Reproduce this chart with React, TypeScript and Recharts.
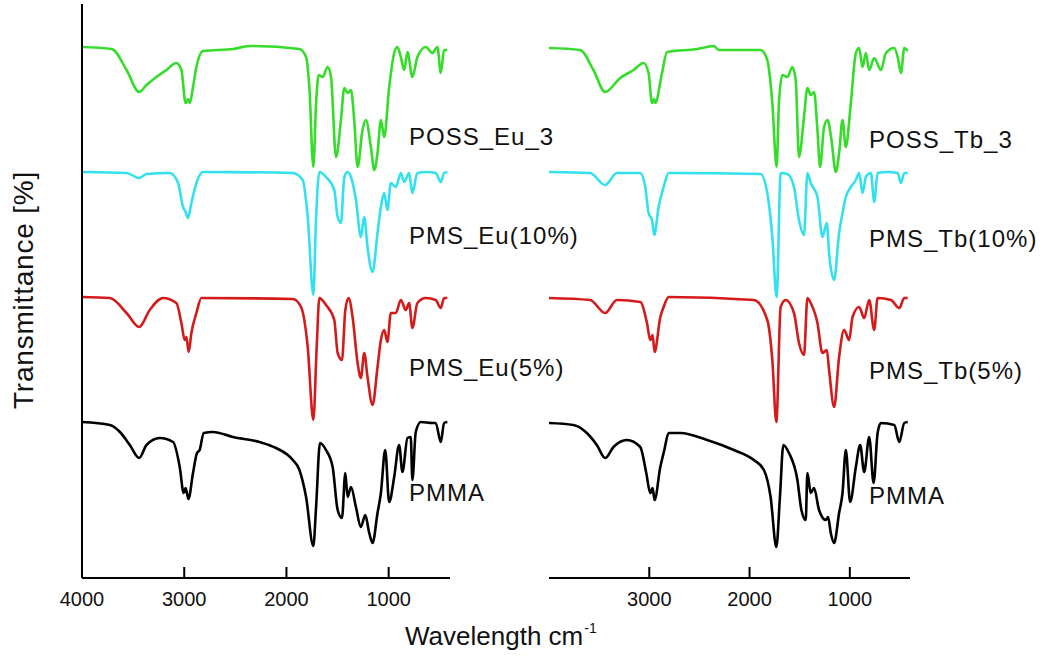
import { LineChart, Line, XAxis, YAxis } from "recharts";

type Pt = [number, number];

// [wavenumber cm-1, stacked transmittance (a.u., curves offset)]
const possEu: Pt[] = [
  [4000, 531], [3710, 529], [3564, 508], [3441, 486], [3369, 493], [3272, 501], [3174, 508],
  [3077, 515], [3028, 508], [2986, 475], [2963, 479], [2946, 475], [2914, 491], [2881, 511],
  [2816, 527], [2523, 529], [2361, 532], [1873, 529], [1808, 521], [1776, 491], [1737, 411],
  [1710, 475], [1685, 503], [1646, 501], [1597, 511], [1564, 501], [1515, 421], [1467, 458],
  [1434, 490], [1402, 485], [1369, 488], [1337, 458], [1304, 411], [1256, 448], [1222, 458],
  [1174, 431], [1141, 408], [1109, 425], [1076, 458], [1044, 441], [995, 491], [946, 525],
  [914, 531], [881, 521], [849, 508], [816, 526], [768, 501], [719, 521], [637, 531],
  [572, 525], [523, 531], [490, 505], [458, 528], [426, 528],
];

const pmsEu10: Pt[] = [
  [4000, 406], [3564, 405], [3441, 400], [3369, 404], [3141, 405], [3060, 395], [3012, 371],
  [2986, 366], [2963, 360], [2930, 375], [2881, 395], [2816, 406], [1938, 405], [1841, 398],
  [1792, 361], [1737, 283], [1710, 361], [1678, 406], [1613, 401], [1532, 388], [1499, 361],
  [1467, 355], [1434, 401], [1402, 406], [1369, 401], [1320, 378], [1272, 341], [1239, 361],
  [1207, 331], [1158, 306], [1109, 345], [1076, 371], [1044, 385], [1012, 368], [979, 395],
  [930, 391], [881, 405], [849, 396], [800, 405], [768, 385], [719, 405], [637, 406],
  [540, 405], [490, 396], [458, 405], [426, 406],
];

const pmsEu5: Pt[] = [
  [4000, 281], [3727, 280], [3564, 265], [3441, 251], [3337, 268], [3207, 280], [3077, 275],
  [3028, 255], [2995, 238], [2979, 241], [2956, 226], [2930, 245], [2881, 265], [2832, 280],
  [1938, 279], [1857, 271], [1792, 231], [1737, 158], [1704, 231], [1678, 280], [1613, 273],
  [1532, 258], [1499, 225], [1457, 218], [1424, 268], [1392, 280], [1353, 261], [1304, 215],
  [1272, 200], [1239, 225], [1207, 201], [1158, 173], [1109, 211], [1076, 238], [1044, 248],
  [1012, 236], [979, 265], [930, 265], [881, 278], [833, 268], [800, 275], [768, 250],
  [719, 275], [637, 280], [540, 278], [490, 270], [458, 280], [426, 280],
];

const pmmaEu: Pt[] = [
  [4000, 156], [3727, 153], [3629, 146], [3532, 133], [3441, 120], [3369, 133], [3239, 140],
  [3109, 136], [3044, 111], [3005, 85], [2986, 90], [2959, 79], [2914, 105], [2875, 125],
  [2849, 128], [2810, 145], [2719, 146], [2523, 141], [2263, 136], [2101, 130], [1938, 118],
  [1873, 108], [1808, 81], [1737, 32], [1710, 71], [1672, 135], [1613, 128], [1548, 111],
  [1499, 68], [1457, 60], [1424, 105], [1402, 81], [1369, 91], [1320, 71], [1272, 51],
  [1229, 63], [1190, 45], [1158, 35], [1109, 65], [1076, 85], [1034, 128], [995, 76],
  [946, 101], [898, 133], [865, 106], [816, 140], [784, 141], [768, 98], [735, 146],
  [686, 156], [572, 155], [540, 155], [490, 136], [458, 155], [426, 156],
];

const possTb: Pt[] = [
  [4000, 530], [3690, 528], [3557, 508], [3440, 486], [3290, 500], [3157, 508], [3057, 515],
  [3007, 505], [2973, 475], [2950, 479], [2940, 475], [2873, 505], [2823, 526], [2523, 529],
  [2357, 532], [2307, 528], [1890, 528], [1823, 518], [1773, 475], [1730, 411], [1707, 475],
  [1673, 503], [1623, 501], [1573, 511], [1540, 498], [1507, 421], [1457, 461], [1423, 490],
  [1390, 483], [1357, 486], [1323, 448], [1297, 411], [1257, 451], [1223, 458], [1183, 438],
  [1140, 406], [1107, 425], [1073, 458], [1040, 431], [990, 475], [940, 525], [907, 530],
  [873, 511], [840, 525], [807, 508], [757, 520], [690, 508], [640, 525], [557, 530],
  [523, 521], [490, 505], [457, 530], [423, 527],
];

const pmsTb10: Pt[] = [
  [4000, 406], [3590, 405], [3440, 393], [3323, 405], [3090, 405], [3040, 391], [3007, 365],
  [2973, 358], [2950, 343], [2907, 371], [2857, 391], [2807, 405], [1890, 404], [1823, 385],
  [1773, 341], [1730, 281], [1690, 405], [1623, 404], [1557, 391], [1507, 358], [1457, 343],
  [1423, 405], [1390, 395], [1323, 381], [1273, 341], [1230, 355], [1207, 325], [1157, 298],
  [1107, 345], [1073, 365], [1040, 381], [990, 391], [940, 398], [907, 405], [873, 385],
  [840, 401], [790, 405], [757, 376], [723, 405], [623, 406], [523, 405], [490, 395],
  [457, 405], [423, 405],
];

const pmsTb5: Pt[] = [
  [4000, 280], [3590, 278], [3440, 265], [3323, 278], [3090, 276], [3023, 255], [2990, 238],
  [2967, 243], [2947, 226], [2890, 261], [2857, 271], [2807, 281], [1957, 278], [1823, 258],
  [1773, 218], [1733, 156], [1690, 271], [1640, 278], [1557, 265], [1507, 235], [1457, 223],
  [1423, 280], [1390, 275], [1323, 255], [1273, 225], [1230, 228], [1207, 208], [1157, 171],
  [1107, 221], [1057, 248], [1007, 238], [973, 261], [907, 271], [857, 260], [807, 278],
  [757, 248], [723, 280], [590, 278], [507, 270], [457, 280], [423, 280],
];

const pmmaTb: Pt[] = [
  [4000, 155], [3757, 153], [3623, 145], [3523, 133], [3440, 120], [3357, 131], [3223, 138],
  [3090, 131], [3030, 105], [2990, 85], [2967, 90], [2947, 78], [2890, 111], [2850, 128],
  [2807, 145], [2690, 145], [2423, 138], [2157, 128], [1957, 118], [1857, 108], [1790, 81],
  [1733, 31], [1697, 81], [1663, 133], [1607, 125], [1523, 98], [1483, 68], [1440, 58],
  [1423, 105], [1390, 85], [1357, 90], [1307, 68], [1240, 58], [1217, 61], [1190, 45],
  [1157, 35], [1107, 65], [1073, 85], [1040, 128], [997, 76], [940, 111], [897, 133],
  [857, 106], [807, 141], [763, 95], [723, 145], [690, 155], [557, 153], [507, 136],
  [457, 155], [423, 156],
];

const leftNames = ["POSS_Eu_3", "PMS_Eu(10%)", "PMS_Eu(5%)", "PMMA"];
const rightNames = ["POSS_Tb_3", "PMS_Tb(10%)", "PMS_Tb(5%)", "PMMA"];
const leftTicks = [4000, 3000, 2000, 1000];
const rightTicks = [3000, 2000, 1000];

const COLORS = ["#35dc2a", "#33e0ee", "#d41a1a", "#000000"];
const FONT = "Arial, 'Liberation Sans', Helvetica, sans-serif";
const AXIS_Y = 578;
const Y_DOMAIN: [number, number] = [0, 574];

const toRows = (pts: Pt[]) => pts.map(([wn, t]) => ({ wn, t }));

function Tick(props: any) {
  const { x, payload } = props;
  return (
    <g>
      <line x1={x} x2={x} y1={AXIS_Y} y2={AXIS_Y - 11} stroke="#000" strokeWidth={2} />
      <text
        x={x}
        y={AXIS_Y + 14}
        dy="0.71em"
        textAnchor="middle"
        fontSize={20}
        fill="#111"
        fontFamily={FONT}
      >
        {payload.value}
      </text>
    </g>
  );
}

function Panel({
  series,
  ticks,
  left,
  width,
  marginLeft,
  showY,
}: {
  series: Pt[][];
  ticks: number[];
  left: number;
  width: number;
  marginLeft: number;
  showY: boolean;
}) {
  return (
    <div style={{ position: "absolute", left, top: 0 }}>
      <LineChart
        width={width}
        height={661}
        margin={{ top: 4, right: 10, left: marginLeft, bottom: 53 }}
      >
        <XAxis
          type="number"
          dataKey="wn"
          domain={[400, 4000]}
          reversed
          allowDataOverflow
          ticks={ticks}
          interval={0}
          height={30}
          tickLine={false}
          tick={<Tick />}
          axisLine={{ stroke: "#000", strokeWidth: 2 }}
        />
        <YAxis
          type="number"
          domain={Y_DOMAIN}
          allowDataOverflow
          hide={!showY}
          width={2}
          tick={false}
          tickLine={false}
          axisLine={{ stroke: "#000", strokeWidth: 2 }}
        />
        {series.map((pts, i) => (
          <Line
            key={i}
            data={toRows(pts)}
            dataKey="t"
            type="monotoneX"
            stroke={COLORS[i]}
            strokeWidth={2.6}
            strokeLinejoin="round"
            dot={false}
            activeDot={false}
            isAnimationActive={false}
          />
        ))}
      </LineChart>
    </div>
  );
}

const labelTops = [124, 223, 355, 480];

export default function App() {
  const labelStyle = {
    position: "absolute" as const,
    fontFamily: FONT,
    fontSize: 24,
    letterSpacing: 1,
    lineHeight: "25px",
    color: "#111",
    whiteSpace: "nowrap" as const,
  };
  return (
    <div
      style={{
        position: "absolute",
        left: 0,
        top: 0,
        width: 1048,
        height: 661,
        background: "#fff",
        overflow: "hidden",
      }}
    >
      <Panel
        series={[possEu, pmsEu10, pmsEu5, pmmaEu]}
        ticks={leftTicks}
        left={0}
        width={460}
        marginLeft={80}
        showY
      />
      <Panel
        series={[possTb, pmsTb10, pmsTb5, pmmaTb]}
        ticks={rightTicks}
        left={480}
        width={440}
        marginLeft={69}
        showY={false}
      />
      {leftNames.map((n, i) => (
        <div key={n} style={{ ...labelStyle, left: 409, top: labelTops[i] }}>
          {n}
        </div>
      ))}
      {rightNames.map((n, i) => (
        <div key={n + "r"} style={{ ...labelStyle, left: 869, top: labelTops[i] + 3 }}>
          {n}
        </div>
      ))}
      <div
        style={{
          position: "absolute",
          left: 24,
          top: 290,
          transform: "translate(-50%, -50%) rotate(-90deg)",
          fontFamily: FONT,
          fontSize: 28,
          letterSpacing: 0.8,
          color: "#111",
          whiteSpace: "nowrap",
          lineHeight: "30px",
        }}
      >
        Transmittance [%]
      </div>
      <div
        style={{
          position: "absolute",
          left: 405,
          top: 622,
          fontFamily: FONT,
          fontSize: 26,
          color: "#111",
          whiteSpace: "nowrap",
          lineHeight: "28px",
        }}
      >
        Wavelength cm
        <span style={{ fontSize: 14, position: "relative", top: -12, marginLeft: 1 }}>-1</span>
      </div>
    </div>
  );
}
